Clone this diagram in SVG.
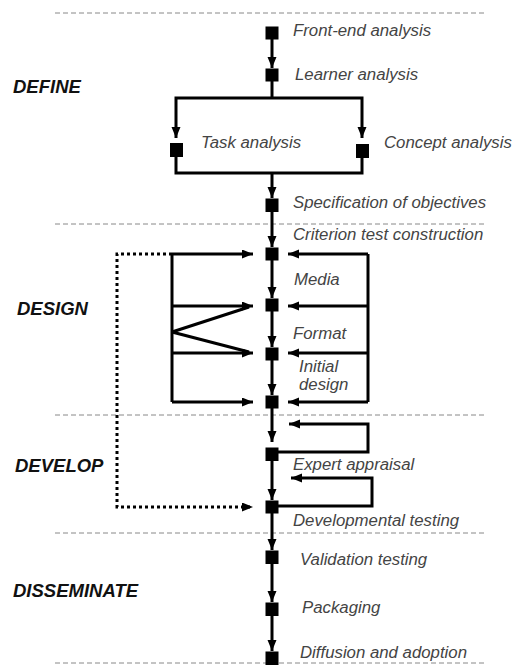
<svg xmlns="http://www.w3.org/2000/svg" width="513" height="665" viewBox="0 0 513 665">
<defs>
<style>
.lbl{font-family:"Liberation Sans",Arial,sans-serif;font-style:italic;font-size:16.8px;fill:#444}
.sec{font-family:"Liberation Sans",Arial,sans-serif;font-style:italic;font-weight:bold;font-size:18.5px;fill:#111}
.sq{fill:#000}
.div{stroke:#888;stroke-width:1;stroke-dasharray:5 3;fill:none}
.ln{stroke:#000;stroke-width:3;fill:none}
.arr{marker-end:url(#ah)}
.dot{stroke:#000;stroke-width:3;stroke-dasharray:3 3;fill:none}
</style>
<marker id="ah" markerUnits="userSpaceOnUse" markerWidth="12" markerHeight="10" refX="11" refY="4.5" orient="auto">
<path d="M0,0 L11,4.5 L0,9 z" fill="#000"/>
</marker>
</defs>
<rect width="513" height="665" fill="#fff"/>
<g id="dividers">
<line class="div" x1="55" y1="13" x2="487" y2="13"/>
<line class="div" x1="55" y1="224" x2="487" y2="224"/>
<line class="div" x1="55" y1="415" x2="487" y2="415"/>
<line class="div" x1="55" y1="533" x2="487" y2="533"/>
<line class="div" x1="55" y1="663" x2="487" y2="663"/>
</g>
<g id="sections">
<text class="sec" x="13" y="93">DEFINE</text>
<text class="sec" x="17" y="315">DESIGN</text>
<text class="sec" x="15" y="472">DEVELOP</text>
<text class="sec" x="13" y="597">DISSEMINATE</text>
</g>
<g id="connectors">
<path class="ln arr" d="M272,39 V68"/>
<path class="ln" d="M272,81 V98"/>
<path class="ln arr" d="M272,98 H176 V138"/>
<path class="ln arr" d="M272,98 H362 V138"/>
<path class="ln" d="M176,157 V173 H362 V157"/>
<path class="ln arr" d="M272,173 V198"/>
<path class="ln arr" d="M272,212 V247"/>
<path class="ln arr" d="M272,260 V298"/>
<path class="ln arr" d="M272,311 V347"/>
<path class="ln arr" d="M272,360 V395"/>
<path class="ln arr" d="M272,408 V442"/>
<path class="ln arr" d="M272,461 V500"/>
<path class="ln arr" d="M272,513 V550"/>
<path class="ln arr" d="M272,564 V602"/>
<path class="ln arr" d="M272,616 V651"/>
<path class="ln" d="M172,254 V402"/>
<path class="ln arr" d="M172,254 H253"/>
<path class="ln arr" d="M172,306 H253"/>
<path class="ln" d="M172,332 L249,307"/>
<path class="ln" d="M172,332 L249,352"/>
<path class="ln arr" d="M172,353 H253"/>
<path class="ln arr" d="M172,402 H253"/>
<path class="ln" d="M368,254 V402"/>
<path class="ln arr" d="M368,254 H288"/>
<path class="ln arr" d="M368,306 H288"/>
<path class="ln arr" d="M368,353 H288"/>
<path class="ln arr" d="M368,402 H288"/>
<path class="ln arr" d="M278,452 H368 V424 H289"/>
<path class="ln arr" d="M278,506 H372 V478 H291"/>
<path class="dot arr" d="M172,254 H117 V507 H253"/>
</g>
<g id="n-frontend"><rect class="sq" x="265.5" y="26.5" width="13" height="13"/><text class="lbl" x="293" y="36">Front-end analysis</text></g>
<g id="n-learner"><rect class="sq" x="265.5" y="68.5" width="13" height="13"/><text class="lbl" x="295" y="80">Learner analysis</text></g>
<g id="n-task"><rect class="sq" x="170" y="143" width="13" height="14"/><text class="lbl" x="201" y="148">Task analysis</text></g>
<g id="n-concept"><rect class="sq" x="356" y="144" width="13" height="14"/><text class="lbl" x="384" y="148">Concept analysis</text></g>
<g id="n-spec"><rect class="sq" x="265.5" y="198.5" width="13" height="13.5"/><text class="lbl" x="293" y="208">Specification of objectives</text></g>
<g id="n-criterion"><rect class="sq" x="265.5" y="247.5" width="13" height="13"/><text class="lbl" x="293" y="240">Criterion test construction</text></g>
<g id="n-media"><rect class="sq" x="265.5" y="298.5" width="13" height="13"/><text class="lbl" x="294" y="285">Media</text></g>
<g id="n-format"><rect class="sq" x="265.5" y="347.5" width="13" height="13"/><text class="lbl" x="293" y="339">Format</text></g>
<g id="n-initial"><rect class="sq" x="265.5" y="395.5" width="13" height="13"/><text class="lbl" x="299" y="372">Initial</text><text class="lbl" x="299" y="390">design</text></g>
<g id="n-expert"><rect class="sq" x="265.5" y="447.5" width="13" height="13.5"/><text class="lbl" x="293" y="470">Expert appraisal</text></g>
<g id="n-devtest"><rect class="sq" x="265.5" y="500.5" width="13" height="13"/><text class="lbl" x="293" y="526">Developmental testing</text></g>
<g id="n-validation"><rect class="sq" x="265.5" y="550.5" width="13" height="13.5"/><text class="lbl" x="300" y="565">Validation testing</text></g>
<g id="n-packaging"><rect class="sq" x="265.5" y="602.5" width="13" height="13.5"/><text class="lbl" x="302" y="613">Packaging</text></g>
<g id="n-diffusion"><rect class="sq" x="265.5" y="651.5" width="13" height="13.5"/><text class="lbl" x="300" y="658">Diffusion and adoption</text></g>
</svg>
